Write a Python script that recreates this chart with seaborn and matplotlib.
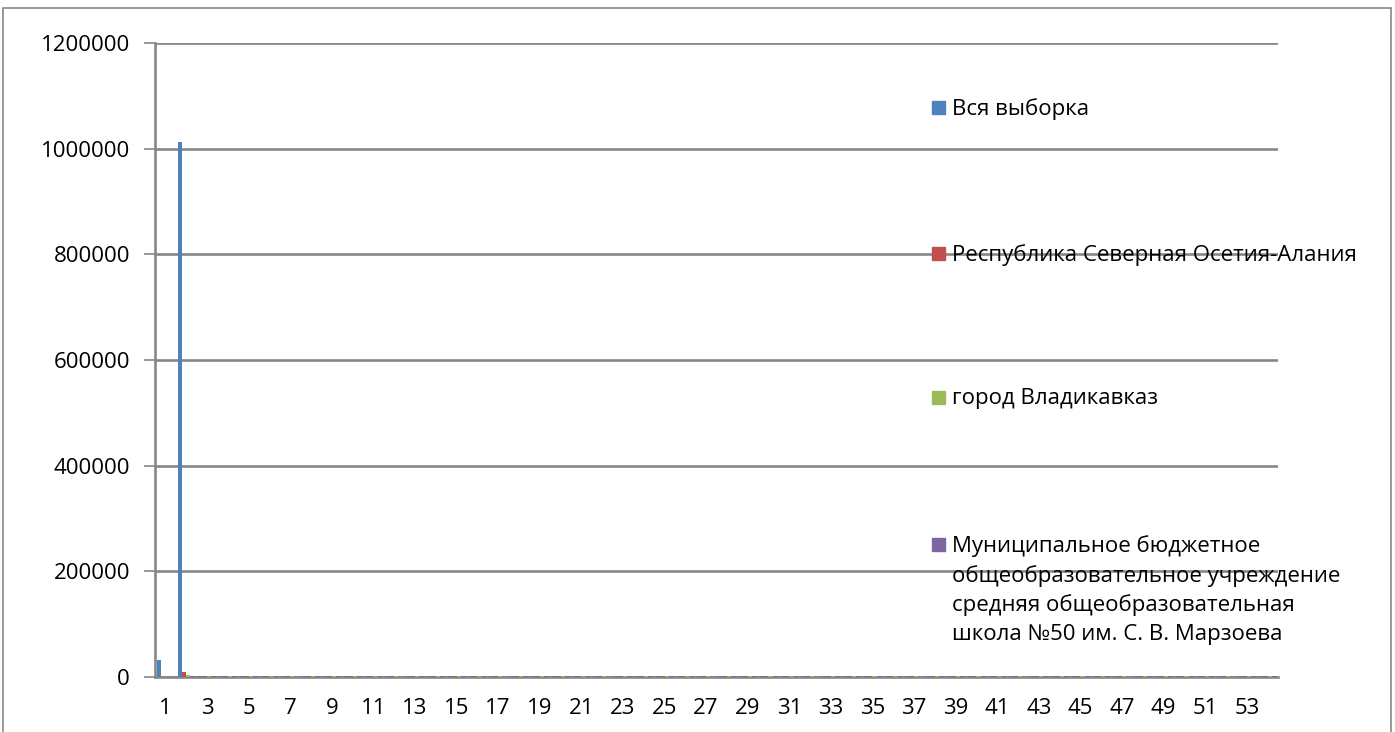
import numpy as np
import pandas as pd
import seaborn as sns
import matplotlib.pyplot as plt
from matplotlib.patches import Rectangle

categories = [str(i) for i in range(1, 55)]
series_names = [
    "Вся выборка",
    "Республика Северная Осетия-Алания",
    "город Владикавказ",
    "Муниципальное бюджетное\nобщеобразовательное учреждение\nсредняя общеобразовательная\nшкола №50 им. С. В. Марзоева",
]
colors = ["#4F81BD", "#C0504D", "#9BBB59", "#8064A2"]

vals_all = [32000, 1013000, 2500, 2200, 2600, 2400, 2100, 2500, 2300, 2600,
            2400, 2200, 2500, 2300, 2600, 2400, 2100, 2500, 2300, 2400,
            2600, 2200, 2500, 2300, 2400, 2600, 2200, 2500, 2300, 2400,
            2600, 2200, 2500, 2300, 2400, 2600, 2200, 2500, 2300, 2400,
            2600, 2200, 2500, 2300, 2400, 2600, 2200, 2500, 2300, 2400,
            2600, 2200, 2500, 2300]
vals_region = [800, 9000, 2000, 1800, 2100, 1900, 1700, 2000, 1800, 2100,
               1900, 1700, 2000, 1800, 2100, 1900, 1700, 2000, 1800, 1900,
               2100, 1700, 2000, 1800, 1900, 2100, 1700, 2000, 1800, 1900,
               2100, 1700, 2000, 1800, 1900, 2100, 1700, 2000, 1800, 1900,
               2100, 1700, 2000, 1800, 1900, 2100, 1700, 2000, 1800, 1900,
               2100, 1700, 2000, 1800]
vals_city = [300, 3500, 1600, 1400, 1700, 1500, 1300, 1600, 1400, 1700,
             1500, 1300, 1600, 1400, 1700, 1500, 1300, 1600, 1400, 1500,
             1700, 1300, 1600, 1400, 1500, 1700, 1300, 1600, 1400, 1500,
             1700, 1300, 1600, 1400, 1500, 1700, 1300, 1600, 1400, 1500,
             1700, 1300, 1600, 1400, 1500, 1700, 1300, 1600, 1400, 1500,
             1700, 1300, 1600, 1400]
vals_school = [100, 1200, 1200, 1000, 1300, 1100, 900, 1200, 1000, 1300,
               1100, 900, 1200, 1000, 1300, 1100, 900, 1200, 1000, 1100,
               1300, 900, 1200, 1000, 1100, 1300, 900, 1200, 1000, 1100,
               1300, 900, 1200, 1000, 1100, 1300, 900, 1200, 1000, 1100,
               1300, 900, 1200, 1000, 1100, 1300, 900, 1200, 1000, 1100,
               1300, 900, 1200, 1000]

rows = []
for name, vals in zip(series_names, [vals_all, vals_region, vals_city, vals_school]):
    for c, v in zip(categories, vals):
        rows.append([c, name, v])
df = pd.DataFrame(rows, columns=["cat", "series", "value"])

sns.set_theme(style="white")
plt.rcParams['font.family'] = ['Open Sans', 'DejaVu Sans']
plt.rcParams['text.color'] = 'black'
plt.rcParams['xtick.color'] = 'black'
plt.rcParams['ytick.color'] = 'black'

fig = plt.figure(figsize=(13.95, 7.32), dpi=100)
ax = fig.add_axes([155 / 1395, 1 - 677 / 732, (1278 - 155) / 1395, (677 - 43) / 732])

sns.barplot(data=df, x="cat", y="value", hue="series", order=categories,
            hue_order=series_names, palette=colors, width=0.82,
            saturation=1, legend=False, ax=ax, linewidth=0)
for p in ax.patches:
    p.set_zorder(3)

ax.set_xlim(-0.5, len(categories) - 0.5)
ax.set_ylim(0, 1200000)
ax.set_yticks(np.arange(0, 1200001, 200000))
ax.set_yticklabels([str(v) for v in range(0, 1200001, 200000)], fontsize=16)
ax.yaxis.grid(True, color="#878787", linewidth=1.9)
ax.set_axisbelow(True)

ax.set_xticks(range(0, len(categories), 2))
ax.set_xticklabels(categories[::2], fontsize=16)
ax.set_xticks(np.arange(-0.5, len(categories), 1), minor=True)
ax.tick_params(axis="x", which="major", length=0, pad=15)
ax.tick_params(axis="x", which="minor", length=6, width=1.2, color="#878787")
ax.tick_params(axis="y", length=8, width=1.2, color="#878787", pad=10, left=True)
ax.set_xlabel("")
ax.set_ylabel("")

for s in ["top", "right"]:
    ax.spines[s].set_visible(False)
for s in ["left", "bottom"]:
    ax.spines[s].set_color("#878787")
    ax.spines[s].set_linewidth(1.9)

# legend drawn as in the spreadsheet: entries spread down the right side
leg_y = [108, 254, 398, 545]
for name, col, y in zip(series_names, colors, leg_y):
    fig.patches.append(Rectangle((932 / 1395, 1 - (y + 6) / 732), 13 / 1395, 13 / 732,
                                 transform=fig.transFigure, color=col))
    fig.text(952 / 1395, 1 - (y - 10) / 732, name, fontsize=16, va="top",
             ha="left", linespacing=1.46)

# outer chart frame
fig.patches.append(Rectangle((3 / 1395, -0.1), (1391 - 3) / 1395, 1.1 - 8 / 732,
                             transform=fig.transFigure, fill=False,
                             edgecolor="#878787", linewidth=1.2))

fig.savefig("out.png", dpi=100)
